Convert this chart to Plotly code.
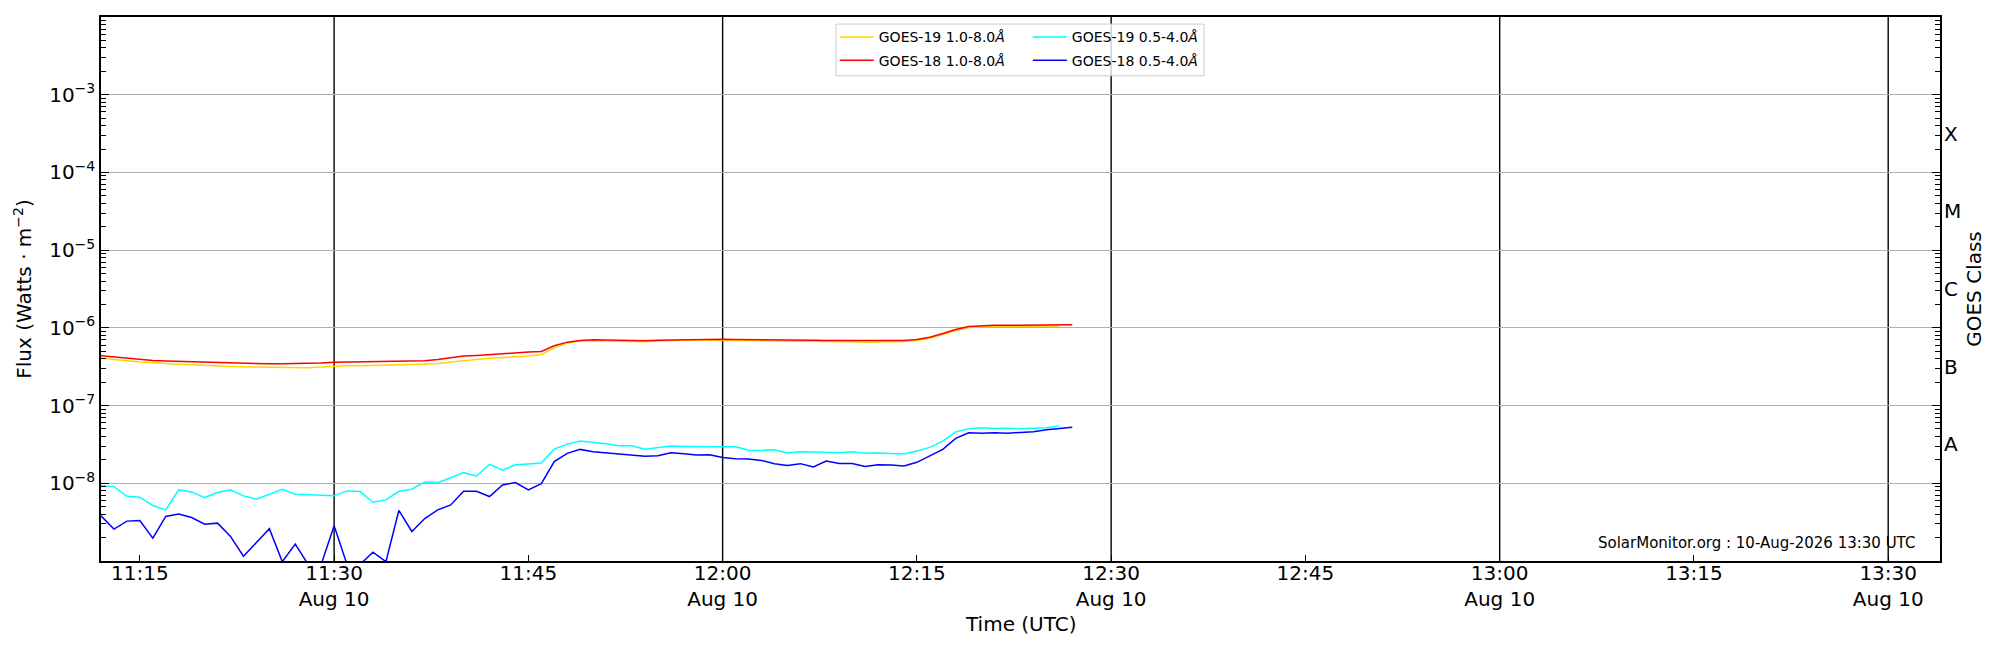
"""GOES X-ray flux plot (SolarMonitor style) rebuilt with Plotly."""

import pandas as pd
import plotly.graph_objects as go

# one-minute samples starting 11:12 UTC
start_time = "2026-08-10 11:12"

goes19_long = [
    4.05e-7, 3.89e-7, 3.78e-7, 3.63e-7, 3.56e-7, 3.45e-7, 3.39e-7, 3.36e-7, 3.29e-7, 3.26e-7,
    3.19e-7, 3.16e-7, 3.13e-7, 3.10e-7, 3.07e-7, 3.07e-7, 3.07e-7, 3.13e-7, 3.23e-7, 3.26e-7,
    3.26e-7, 3.29e-7, 3.32e-7, 3.36e-7, 3.36e-7, 3.39e-7, 3.45e-7, 3.63e-7, 3.81e-7, 3.93e-7,
    4.05e-7, 4.12e-7, 4.21e-7, 4.33e-7, 4.55e-7, 5.54e-7, 6.36e-7, 6.75e-7, 6.81e-7, 6.75e-7,
    6.68e-7, 6.62e-7, 6.62e-7, 6.75e-7, 6.89e-7, 6.95e-7, 7.02e-7, 6.95e-7, 6.95e-7, 6.89e-7,
    6.89e-7, 6.81e-7, 6.75e-7, 6.75e-7, 6.68e-7, 6.68e-7, 6.68e-7, 6.62e-7, 6.62e-7, 6.55e-7,
    6.55e-7, 6.62e-7, 6.68e-7, 6.89e-7, 7.37e-7, 8.22e-7, 9.24e-7, 1.01e-6, 1.04e-6, 1.05e-6,
    1.05e-6, 1.05e-6, 1.05e-6, 1.06e-6, 1.06e-6,
]

goes18_long = [
    4.38e-7, 4.21e-7, 4.05e-7, 3.89e-7, 3.81e-7, 3.74e-7, 3.70e-7, 3.66e-7, 3.63e-7, 3.60e-7,
    3.52e-7, 3.52e-7, 3.49e-7, 3.45e-7, 3.45e-7, 3.45e-7, 3.49e-7, 3.52e-7, 3.60e-7, 3.63e-7,
    3.63e-7, 3.63e-7, 3.70e-7, 3.74e-7, 3.74e-7, 3.78e-7, 3.93e-7, 4.12e-7, 4.33e-7, 4.42e-7,
    4.55e-7, 4.65e-7, 4.78e-7, 4.88e-7, 4.97e-7, 5.88e-7, 6.55e-7, 6.89e-7, 7.02e-7, 6.95e-7,
    6.89e-7, 6.81e-7, 6.81e-7, 6.95e-7, 7.02e-7, 7.09e-7, 7.16e-7, 7.16e-7, 7.16e-7, 7.09e-7,
    7.09e-7, 7.02e-7, 7.02e-7, 6.95e-7, 6.95e-7, 6.95e-7, 6.89e-7, 6.89e-7, 6.89e-7, 6.81e-7,
    6.81e-7, 6.81e-7, 6.89e-7, 7.09e-7, 7.59e-7, 8.46e-7, 9.52e-7, 1.04e-6, 1.07e-6, 1.08e-6,
    1.08e-6, 1.08e-6, 1.08e-6, 1.08e-6, 1.09e-6, 1.10e-6,
]

goes19_short = [
    9.33e-9, 9.06e-9, 6.81e-9, 6.62e-9, 5.18e-9, 4.55e-9, 8.22e-9, 7.74e-9, 6.55e-9, 7.59e-9,
    8.22e-9, 6.89e-9, 6.24e-9, 7.30e-9, 8.38e-9, 7.23e-9, 7.08e-9, 6.89e-9, 6.89e-9, 7.98e-9,
    7.82e-9, 5.70e-9, 6.11e-9, 7.89e-9, 8.38e-9, 1.04e-8, 1.02e-8, 1.18e-8, 1.37e-8, 1.24e-8,
    1.75e-8, 1.47e-8, 1.73e-8, 1.77e-8, 1.82e-8, 2.75e-8, 3.19e-8, 3.49e-8, 3.36e-8, 3.23e-8,
    3.04e-8, 3.04e-8, 2.75e-8, 2.86e-8, 3.01e-8, 2.98e-8, 2.95e-8, 2.95e-8, 2.95e-8, 2.95e-8,
    2.67e-8, 2.65e-8, 2.70e-8, 2.45e-8, 2.55e-8, 2.52e-8, 2.47e-8, 2.47e-8, 2.55e-8, 2.43e-8,
    2.45e-8, 2.43e-8, 2.38e-8, 2.60e-8, 2.90e-8, 3.49e-8, 4.59e-8, 5.02e-8, 5.18e-8, 5.07e-8,
    5.12e-8, 5.02e-8, 5.07e-8, 5.18e-8, 5.48e-8,
]

goes18_short = [
    3.81e-9, 2.57e-9, 3.26e-9, 3.32e-9, 1.97e-9, 3.74e-9, 4.01e-9, 3.63e-9, 2.98e-9, 3.07e-9,
    2.07e-9, 1.15e-9, 1.73e-9, 2.60e-9, 9.8e-10, 1.65e-9, 9.0e-10, 9.0e-10, 2.84e-9, 9.0e-10,
    9.0e-10, 1.30e-9, 9.8e-10, 4.47e-9, 2.40e-9, 3.52e-9, 4.55e-9, 5.27e-9, 7.89e-9, 7.89e-9,
    6.75e-9, 9.52e-9, 1.02e-8, 8.22e-9, 9.91e-9, 1.90e-8, 2.43e-8, 2.73e-8, 2.55e-8, 2.45e-8,
    2.40e-8, 2.26e-8, 2.22e-8, 2.26e-8, 2.47e-8, 2.40e-8, 2.31e-8, 2.33e-8, 2.15e-8, 2.07e-8,
    2.05e-8, 1.97e-8, 1.79e-8, 1.70e-8, 1.79e-8, 1.62e-8, 1.93e-8, 1.80e-8, 1.80e-8, 1.64e-8,
    1.73e-8, 1.72e-8, 1.67e-8, 1.86e-8, 2.26e-8, 2.73e-8, 3.78e-8, 4.47e-8, 4.42e-8, 4.47e-8,
    4.42e-8, 4.51e-8, 4.59e-8, 4.88e-8, 5.07e-8, 5.27e-8,
]

x_range = ["2026-08-10 11:12", "2026-08-10 13:34"]
tick_times = [
    "2026-08-10 11:15", "2026-08-10 11:30", "2026-08-10 11:45", "2026-08-10 12:00",
    "2026-08-10 12:15", "2026-08-10 12:30", "2026-08-10 12:45", "2026-08-10 13:00",
    "2026-08-10 13:15", "2026-08-10 13:30",
]
tick_labels = [
    "11:15", "11:30<br>Aug 10", "11:45", "12:00<br>Aug 10", "12:15",
    "12:30<br>Aug 10", "12:45", "13:00<br>Aug 10", "13:15", "13:30<br>Aug 10",
]
half_hours = [t for t, lab in zip(tick_times, tick_labels) if "Aug" in lab]

flux_ticks = [1e-8, 1e-7, 1e-6, 1e-5, 1e-4, 1e-3]
flux_labels = ["10<sup>−8</sup>", "10<sup>−7</sup>", "10<sup>−6</sup>",
               "10<sup>−5</sup>", "10<sup>−4</sup>", "10<sup>−3</sup>"]
minor_ticks = [k * 10.0 ** e for e in range(-9, -2) for k in range(2, 10)]

class_ticks = [3.16e-8, 3.16e-7, 3.16e-6, 3.16e-5, 3.16e-4]
class_labels = ["A", "B", "C", "M", "X"]

series = [
    ("GOES-19 1.0-8.0<i>Å</i>", goes19_long, "#ffd700", "legend"),
    ("GOES-18 1.0-8.0<i>Å</i>", goes18_long, "#ff0000", "legend"),
    ("GOES-19 0.5-4.0<i>Å</i>", goes19_short, "#00ffff", "legend2"),
    ("GOES-18 0.5-4.0<i>Å</i>", goes18_short, "#0000ff", "legend2"),
]

FONT = "DejaVu Sans"

fig = go.Figure()
for i, (name, values, color, legend) in enumerate(series):
    times = pd.date_range(start_time, periods=len(values), freq="1min")
    fig.add_trace(go.Scatter(
        x=times, y=values, mode="lines", name=name,
        line=dict(color=color, width=1.5),
        legend=legend, legendgroup=f"g{i}",
    ))

# invisible trace so the GOES class axis is drawn
fig.add_trace(go.Scatter(x=[], y=[], yaxis="y2", showlegend=False, hoverinfo="skip"))

for t in half_hours:
    fig.add_vline(x=t, line=dict(color="black", width=1.4), layer="below")

# legend frame (both legends sit inside it)
fig.add_shape(
    type="rect", xref="paper", yref="paper",
    x0=0.3997, x1=0.5998, y0=0.892, y1=0.987,
    line=dict(color="#cccccc", width=1), fillcolor="rgba(255,255,255,0.8)",
    layer="above",
)

fig.add_annotation(
    text="SolarMonitor.org : 10-Aug-2026 13:30 UTC",
    xref="paper", yref="paper", x=0.9875, y=0.033,
    xanchor="right", yanchor="middle", showarrow=False,
    font=dict(family=FONT, size=15, color="black"),
)

# x axis title placed by hand, a bit closer to the tick labels than plotly allows
fig.add_annotation(
    text="Time (UTC)", xref="paper", yref="paper", x=0.5, y=-0.115,
    xanchor="center", yanchor="middle", showarrow=False,
    font=dict(family=FONT, size=20, color="black"),
)

legend_style = dict(
    orientation="v", xanchor="left", yanchor="top",
    bgcolor="rgba(0,0,0,0)", borderwidth=0,
    font=dict(family=FONT, size=14, color="black"),
    tracegroupgap=2, itemwidth=34,
)

# the page body keeps its default 8px margin, so the figure is shifted by that much
fig.update_layout(
    width=1992, height=642,
    margin=dict(l=93, r=60, t=7, b=89),
    plot_bgcolor="white", paper_bgcolor="white",
    font=dict(family=FONT, size=20, color="black"),
    showlegend=True,
    legend=dict(x=0.399, y=0.992, **legend_style),
    legend2=dict(x=0.504, y=0.992, **legend_style),
    xaxis=dict(
        type="date", range=x_range,
        tickmode="array", tickvals=tick_times, ticktext=tick_labels,
        ticks="inside", ticklen=6, tickwidth=1, tickcolor="black",
        ticklabelstandoff=-7,
        showgrid=False, zeroline=False,
        showline=True, linecolor="black", linewidth=1.5, mirror=True,
        tickfont=dict(family=FONT, size=20),
    ),
    yaxis=dict(
        type="log", range=[-9, -2],
        tickmode="array", tickvals=flux_ticks, ticktext=flux_labels,
        ticks="inside", ticklen=8, tickwidth=1, tickcolor="black",
        minor=dict(tickmode="array", tickvals=minor_ticks, ticks="inside",
                   ticklen=5, tickwidth=1, tickcolor="black", showgrid=False),
        showgrid=True, gridcolor="#b0b0b0", gridwidth=1, zeroline=False,
        showline=True, linecolor="black", linewidth=1.5, mirror="allticks",
        tickfont=dict(family=FONT, size=20),
        title=dict(text="Flux (Watts · m<sup>−2</sup>)", font=dict(family=FONT, size=20),
                   standoff=12),
    ),
    yaxis2=dict(
        type="log", range=[-9, -2], overlaying="y", side="right",
        tickmode="array", tickvals=class_ticks, ticktext=class_labels,
        ticks="", showgrid=False, zeroline=False, showline=False,
        ticklabelstandoff=3,
        tickfont=dict(family=FONT, size=20),
        title=dict(text="GOES Class", font=dict(family=FONT, size=20), standoff=6),
    ),
)

fig.write_html("out.html")
